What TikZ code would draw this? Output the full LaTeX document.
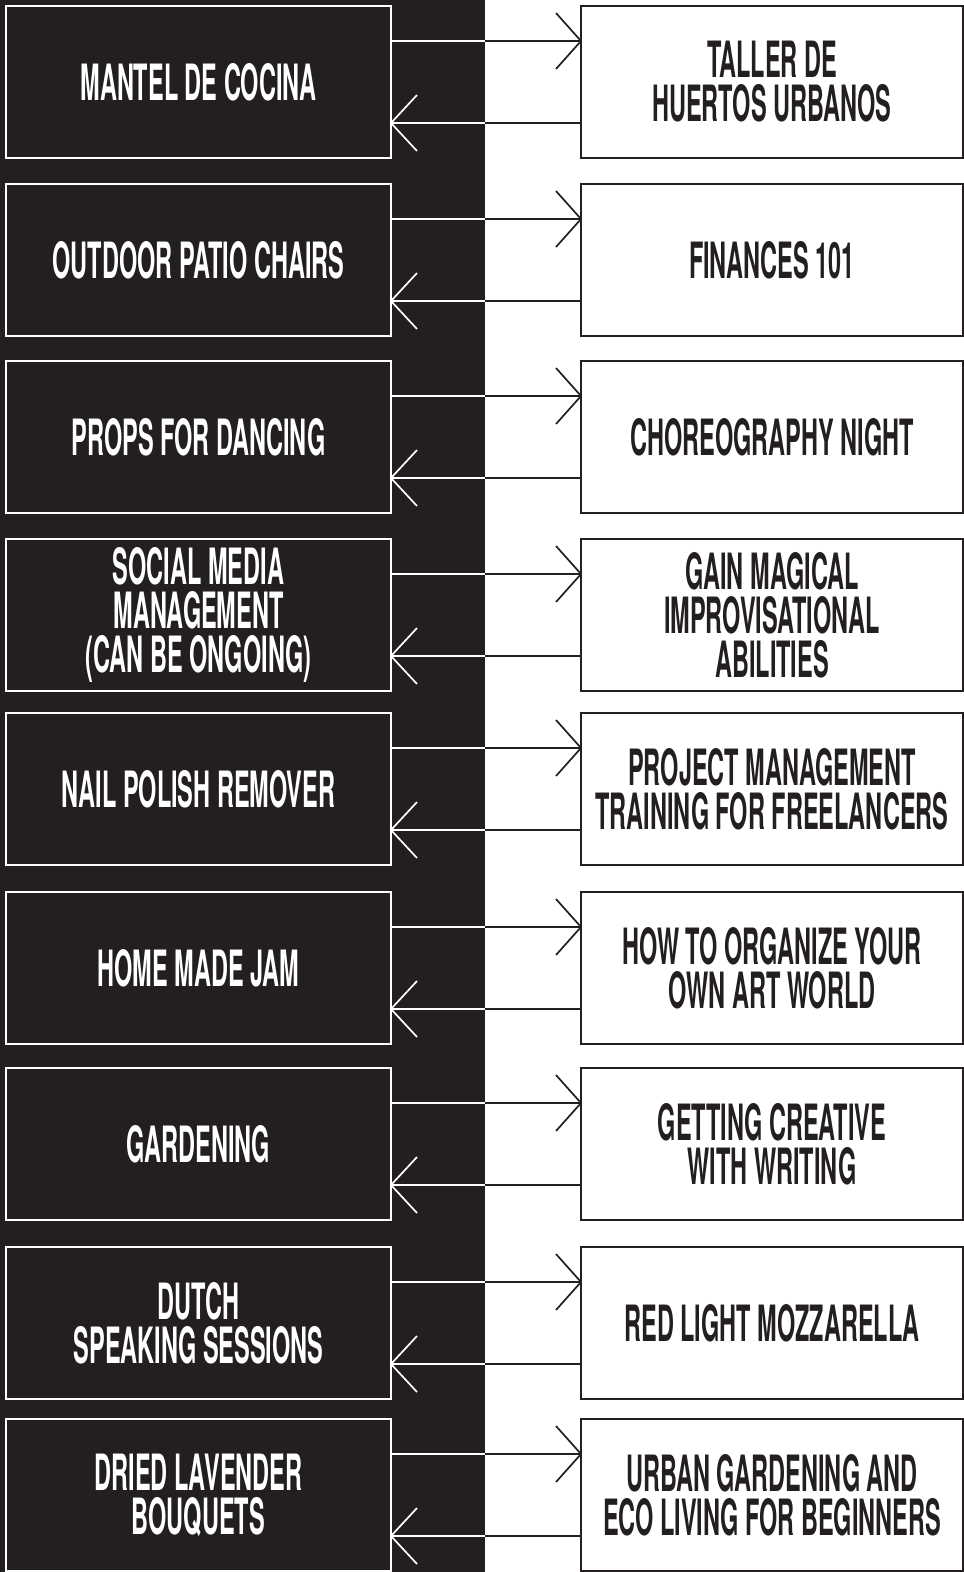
\documentclass[tikz,border=0pt]{standalone}
\usepackage{fontspec}
\newfontfamily\condfam{TeX Gyre Heros}[FakeStretch=0.47]
\newcommand\cardfont{\condfam\bfseries\fontsize{50}{44}\selectfont}
\definecolor{dark}{HTML}{231F20}
\begin{document}
\begin{tikzpicture}[x=1pt,y=-1pt,
  lbox/.style={draw=white, line width=2.4pt, fill=dark, text=white, minimum width=385pt, minimum height=152pt, inner sep=0pt, outer sep=0pt, align=center, font=\cardfont},
  rbox/.style={draw=dark, line width=2.8pt, fill=white, text=dark, minimum width=382pt, minimum height=152pt, inner sep=0pt, outer sep=0pt, align=center, font=\cardfont},
  wl/.style={draw=white, line width=1.7pt},
  dl/.style={draw=dark, line width=1.7pt}]
\useasboundingbox (0,0) rectangle (964,1572);
\fill[white] (0,0) rectangle (964,1572);
\fill[dark] (0,0) rectangle (485,1572);
\coordinate (bgedge) at (485,0);
\foreach \t/\a/\b [count=\i] in {
  6/{MANTEL DE COCINA}/{TALLER DE\\HUERTOS URBANOS},
  184/{OUTDOOR PATIO CHAIRS}/{FINANCES 101},
  361/{PROPS FOR DANCING}/{CHOREOGRAPHY NIGHT},
  539/{SOCIAL MEDIA\\MANAGEMENT\\(CAN BE ONGOING)}/{GAIN MAGICAL\\IMPROVISATIONAL\\ABILITIES},
  713/{NAIL POLISH REMOVER}/{PROJECT MANAGEMENT\\TRAINING FOR FREELANCERS},
  892/{HOME MADE JAM}/{HOW TO ORGANIZE YOUR\\OWN ART WORLD},
  1068/{GARDENING}/{GETTING CREATIVE\\WITH WRITING},
  1247/{DUTCH\\SPEAKING SESSIONS}/{RED LIGHT MOZZARELLA},
  1419/{DRIED LAVENDER\\BOUQUETS}/{URBAN GARDENING AND\\ECO LIVING FOR BEGINNERS}} {
  \node[lbox] (L\i) at (198.5,\t+76) {\a};
  \node[rbox] (R\i) at (772,\t+76) {\b};
  \coordinate (ta\i) at ([yshift=-35pt]L\i.north east);
  \coordinate (tb\i) at ([yshift=-35pt]R\i.north west);
  \coordinate (tm\i) at (ta\i -| bgedge);
  \draw[wl] (ta\i) -- (tm\i);
  \draw[dl] (tm\i) -- (tb\i);
  \draw[dl] ([shift={(-25pt,28pt)}]tb\i) -- (tb\i) -- ([shift={(-25pt,-28pt)}]tb\i);
  \coordinate (ba\i) at ([yshift=-117pt]L\i.north east);
  \coordinate (bb\i) at ([yshift=-117pt]R\i.north west);
  \coordinate (bm\i) at (ba\i -| bgedge);
  \draw[dl] (bb\i) -- (bm\i);
  \draw[wl] (bm\i) -- (ba\i);
  \draw[wl] ([shift={(26pt,28pt)}]ba\i) -- (ba\i) -- ([shift={(26pt,-28pt)}]ba\i);
}
\end{tikzpicture}
\end{document}
